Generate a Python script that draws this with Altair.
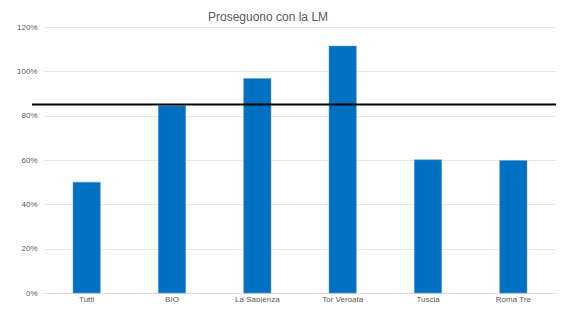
import altair as alt
import pandas as pd

categories = ["Tutti", "BIO", "La Sapienza", "Tor Vergata", "Tuscia", "Roma Tre"]
values = [0.50, 0.845, 0.968, 1.114, 0.601, 0.598]
threshold = [0.85]

df = pd.DataFrame({"cat": categories, "val": values})
ref = pd.DataFrame({"y": threshold})

bars = alt.Chart(df).mark_bar(color="#0070C0", stroke="#5B9BD5", strokeWidth=0.5).encode(
    x=alt.X("cat:N", sort=categories, title=None,
            scale=alt.Scale(paddingInner=0.68, paddingOuter=0.34),
            axis=alt.Axis(labelAngle=0, labelFontSize=8, labelColor="#595959",
                          labelFont="Liberation Sans", ticks=False, domainColor="#d9d9d9",
                          labelPadding=2)),
    y=alt.Y("val:Q", title=None,
            scale=alt.Scale(domain=[0, 1.2], nice=False),
            axis=alt.Axis(format=".0%", values=[0, 0.2, 0.4, 0.6, 0.8, 1.0, 1.2],
                          labelFontSize=8, labelColor="#595959", labelFont="Liberation Sans",
                          domain=False, ticks=False, gridColor="#e6e6e6", labelPadding=7)),
)

line = alt.Chart(ref).mark_rule(color="black", strokeWidth=2).encode(
    y="y:Q", x=alt.value(-12), x2=alt.value(512)
)

chart = alt.layer(bars, line).properties(
    width=512, height=266,
    title=alt.TitleParams("Proseguono con la LM", fontSize=12, fontWeight="normal",
                          color="#595959", font="Liberation Sans", offset=0, dx=-32, dy=1),
    autosize=alt.AutoSizeParams(type="none"),
    padding={"left": 36, "top": 19, "right": 0, "bottom": 9},
).configure_view(stroke=None)

chart.save("out.html", embed_options={"renderer": "svg", "actions": False})
